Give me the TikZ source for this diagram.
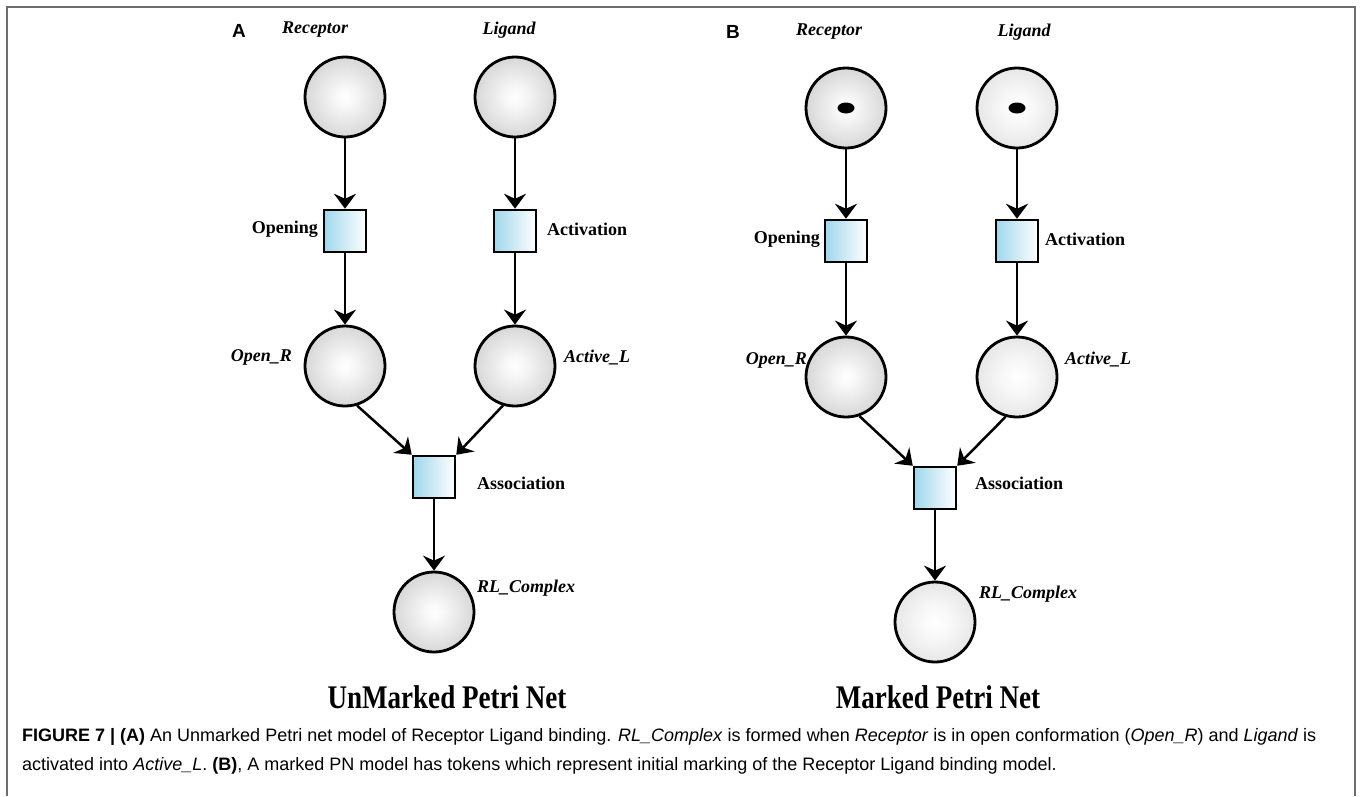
\documentclass[tikz,border=0pt]{standalone}
\usepackage{fontspec}
\setmainfont{Liberation Serif}
\newfontfamily\capfont{Liberation Sans}
\usetikzlibrary{arrows.meta,shapes.geometric}
\definecolor{framegray}{RGB}{110,110,110}
\definecolor{tblue}{RGB}{160,214,236}
\pgfdeclareradialshading{placedark}{\pgfpoint{0bp}{0bp}}{color(0bp)=(white); color(6bp)=(white!97!black); color(50bp)=(white!68!black)}
\pgfdeclareradialshading{placelight}{\pgfpoint{0bp}{0bp}}{color(0bp)=(white); color(10bp)=(white!97!black); color(50bp)=(white!80!black)}
\tikzset{
  pnplace/.style={circle, draw, line width=2.8pt, minimum size=80pt, inner sep=0pt, shading=placedark},
  pnlplace/.style={pnplace, shading=placelight},
  pntrans/.style={rectangle, draw, line width=2.5pt, minimum size=42pt, inner sep=0pt, left color=tblue, right color=white},
  pntoken/.style={ellipse, fill=black, minimum width=17pt, minimum height=11pt, inner sep=0pt},
  pnarrow/.style={line width=2.5pt, -{Stealth[length=15pt, width=22pt, inset=5pt]}},
  pnname/.style={font=\fontsize{18}{20}\selectfont\bfseries\itshape, inner sep=0pt},
  pnlabel/.style={font=\fontsize{18}{20}\selectfont\bfseries, inner sep=0pt},
  pnpanel/.style={font=\capfont\fontsize{19}{21}\selectfont\bfseries, inner sep=0pt},
  pntitle/.style={font=\fontsize{33}{35}\selectfont\bfseries, inner sep=0pt},
  captext/.style={font=\capfont\fontsize{18}{20}\selectfont, inner sep=0pt, anchor=base west}
}
\begin{document}
\begin{tikzpicture}[x=1pt, y=-1pt]
\useasboundingbox (0,0) rectangle (1362,796);
\draw[framegray, line width=2pt] (7,796) -- (7,7) -- (1355,7) -- (1355,796);

% ---------- Panel A ----------
\node[pnpanel] (pA) at (239,31) {A};
\node[pnname] (lRA) at (315,30) {Receptor};
\node[pnname] (lLA) at (509,30) {Ligand};
\node[pnplace] (RA) at (345,97) {};
\node[pnplace] (LA) at (515,97) {};
\node[pntrans] (OpA) at (345,231) {};
\node[pntrans] (AcA) at (515,231) {};
\node[pnlabel, anchor=east] (lOpA) at (318,229) {Opening};
\node[pnlabel, anchor=west] (lAcA) at (547,229) {Activation};
\node[pnplace] (ORA) at (345,366) {};
\node[pnplace] (ALA) at (515,366) {};
\node[pnname, anchor=east] (lORA) at (292,357) {Open\_R};
\node[pnname, anchor=west] (lALA) at (564,357) {Active\_L};
\node[pntrans] (AsA) at (434,477) {};
\node[pnlabel, anchor=west] (lAsA) at (477,483) {Association};
\node[pnplace] (RLA) at (434,612) {};
\node[pnname, anchor=west] (lRLA) at (477,588) {RL\_Complex};
\node[pntitle] (tA) at (447,697) {\scalebox{0.82}[1]{UnMarked Petri Net}};

\draw[pnarrow] (RA) -- (OpA);
\draw[pnarrow] (LA) -- (AcA);
\draw[pnarrow] (OpA) -- (ORA);
\draw[pnarrow] (AcA) -- (ALA);
\draw[pnarrow] (ORA.-73) -- (AsA.north west);
\draw[pnarrow] (ALA.-107) -- (AsA.north east);
\draw[pnarrow] (AsA) -- (RLA);

% ---------- Panel B ----------
\node[pnpanel] (pB) at (733,32) {B};
\node[pnname] (lRB) at (829,32) {Receptor};
\node[pnname] (lLB) at (1024,32) {Ligand};
\node[pnplace] (RB) at (846,108) {};
\node[pnlplace] (LB) at (1017,108) {};
\node[pntoken] (tRB) at (RB) {};
\node[pntoken] (tLB) at (LB) {};
\node[pntrans] (OpB) at (846,241) {};
\node[pntrans] (AcB) at (1017,241) {};
\node[pnlabel, anchor=east] (lOpB) at (820,239) {Opening};
\node[pnlabel, anchor=west] (lAcB) at (1045,239) {Activation};
\node[pnplace] (ORB) at (846,377) {};
\node[pnlplace] (ALB) at (1017,377) {};
\node[pnname, anchor=east] (lORB) at (807,360) {Open\_R};
\node[pnname, anchor=west] (lALB) at (1065,359) {Active\_L};
\node[pntrans] (AsB) at (935,488) {};
\node[pnlabel, anchor=west] (lAsB) at (975,483) {Association};
\node[pnlplace] (RLB) at (935,622) {};
\node[pnname, anchor=west] (lRLB) at (979,594) {RL\_Complex};
\node[pntitle] (tB) at (938,697) {\scalebox{0.82}[1]{Marked Petri Net}};

\draw[pnarrow] (RB) -- (OpB);
\draw[pnarrow] (LB) -- (AcB);
\draw[pnarrow] (OpB) -- (ORB);
\draw[pnarrow] (AcB) -- (ALB);
\draw[pnarrow] (ORB.-71) -- (AsB.north west);
\draw[pnarrow] (ALB.-106) -- (AsB.north east);
\draw[pnarrow] (AsB) -- (RLB);

% ---------- Caption ----------
\node[captext] (c1) at (22,741) {\textbf{FIGURE 7 | (A)} An Unmarked Petri net model of Receptor Ligand binding. \textit{RL\_Complex} is formed when \textit{Receptor} is in open conformation (\textit{Open\_R}) and \textit{Ligand} is};
\node[captext] (c2) at (22,770) {activated into \textit{Active\_L}. \textbf{(B)}, A marked PN model has tokens which represent initial marking of the Receptor Ligand binding model.};
\end{tikzpicture}
\end{document}
